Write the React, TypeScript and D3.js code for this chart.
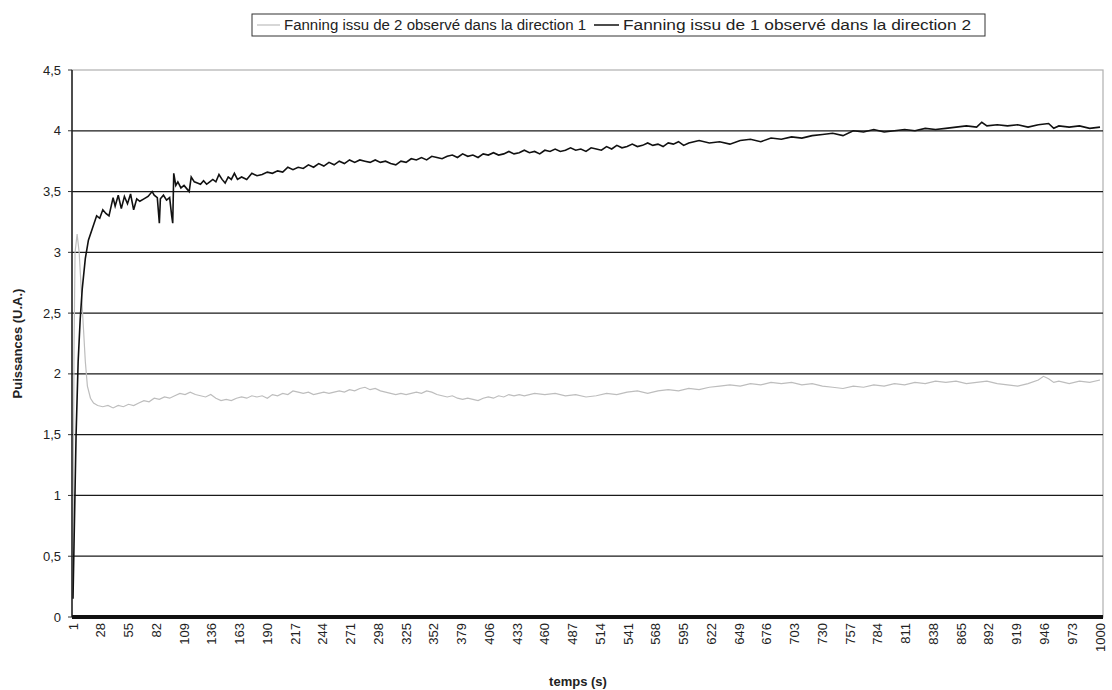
import React from "react";
import * as d3 from "d3";

// Series: [temps (s), puissance (U.A.)]
const fanning2dir1: [number, number][] = [
  [1, 0.5], [2, 2.2], [3, 3.0], [5, 3.15], [7, 3.0], [9, 2.7], [11, 2.4], [13, 2.1], [15, 1.9],
  [18, 1.8], [21, 1.76], [25, 1.74], [30, 1.73], [35, 1.74], [40, 1.72], [45, 1.74], [50, 1.73],
  [55, 1.75], [60, 1.74], [65, 1.76], [70, 1.78], [75, 1.77], [80, 1.8], [85, 1.79], [90, 1.81],
  [95, 1.8], [100, 1.82], [105, 1.84], [110, 1.83], [115, 1.85], [120, 1.83], [125, 1.82],
  [130, 1.81], [135, 1.83], [140, 1.8], [145, 1.78], [150, 1.79], [155, 1.78], [160, 1.8],
  [165, 1.81], [170, 1.8], [175, 1.82], [180, 1.81], [185, 1.82], [190, 1.8], [195, 1.83],
  [200, 1.82], [205, 1.84], [210, 1.83], [215, 1.86], [220, 1.85], [225, 1.84], [230, 1.85],
  [235, 1.83], [240, 1.84], [245, 1.85], [250, 1.84], [255, 1.85], [260, 1.86], [265, 1.85],
  [270, 1.87], [275, 1.86], [280, 1.88], [285, 1.89], [290, 1.87], [295, 1.88], [300, 1.86],
  [305, 1.85], [310, 1.84], [315, 1.83], [320, 1.84], [325, 1.83], [330, 1.84], [335, 1.85],
  [340, 1.84], [345, 1.86], [350, 1.85], [355, 1.83], [360, 1.82], [365, 1.81], [370, 1.82],
  [375, 1.8], [380, 1.79], [385, 1.8], [390, 1.79], [395, 1.78], [400, 1.8], [405, 1.81],
  [410, 1.8], [415, 1.82], [420, 1.81], [425, 1.83], [430, 1.82], [435, 1.83], [440, 1.82],
  [450, 1.84], [460, 1.83], [470, 1.84], [480, 1.82], [490, 1.83], [500, 1.81], [510, 1.82],
  [520, 1.84], [530, 1.83], [540, 1.85], [550, 1.86], [560, 1.84], [570, 1.86], [580, 1.87],
  [590, 1.86], [600, 1.88], [610, 1.87], [620, 1.89], [630, 1.9], [640, 1.91], [650, 1.9],
  [660, 1.92], [670, 1.91], [680, 1.93], [690, 1.92], [700, 1.93], [710, 1.91], [720, 1.92],
  [730, 1.9], [740, 1.89], [750, 1.88], [760, 1.9], [770, 1.89], [780, 1.91], [790, 1.9],
  [800, 1.92], [810, 1.91], [820, 1.93], [830, 1.92], [840, 1.94], [850, 1.93], [860, 1.94],
  [870, 1.92], [880, 1.93], [890, 1.94], [900, 1.92], [910, 1.91], [920, 1.9], [930, 1.92],
  [940, 1.95], [945, 1.98], [950, 1.96], [955, 1.93], [960, 1.94], [970, 1.92], [980, 1.94],
  [990, 1.93], [1000, 1.95],
];

const fanning1dir2: [number, number][] = [
  [1, 0.15], [2, 0.6], [4, 1.5], [6, 2.1], [8, 2.45], [10, 2.7], [13, 2.95], [16, 3.1],
  [20, 3.2], [24, 3.3], [27, 3.28], [30, 3.35], [33, 3.32], [36, 3.3], [40, 3.45], [42, 3.38],
  [45, 3.47], [48, 3.36], [51, 3.46], [54, 3.4], [57, 3.48], [60, 3.35], [63, 3.44], [66, 3.42],
  [70, 3.44], [74, 3.46], [78, 3.5], [80, 3.47], [83, 3.45], [85, 3.24], [86, 3.44], [89, 3.47],
  [92, 3.43], [95, 3.45], [97, 3.3], [98, 3.24], [99, 3.65], [101, 3.55], [103, 3.58],
  [106, 3.53], [109, 3.55], [112, 3.52], [114, 3.5], [116, 3.62], [119, 3.58], [122, 3.57],
  [125, 3.56], [128, 3.59], [131, 3.56], [134, 3.58], [137, 3.6], [140, 3.58], [143, 3.64],
  [146, 3.6], [149, 3.57], [152, 3.62], [155, 3.6], [158, 3.65], [161, 3.6], [165, 3.62],
  [170, 3.6], [175, 3.65], [180, 3.63], [185, 3.64], [190, 3.66], [195, 3.65], [200, 3.67],
  [205, 3.66], [210, 3.7], [215, 3.68], [220, 3.7], [225, 3.69], [230, 3.72], [235, 3.7],
  [240, 3.73], [245, 3.71], [250, 3.74], [255, 3.72], [260, 3.75], [265, 3.73], [270, 3.76],
  [275, 3.74], [280, 3.76], [285, 3.75], [290, 3.74], [295, 3.76], [300, 3.74], [305, 3.75],
  [310, 3.73], [315, 3.72], [320, 3.75], [325, 3.74], [330, 3.77], [335, 3.76], [340, 3.78],
  [345, 3.76], [350, 3.79], [355, 3.78], [360, 3.77], [365, 3.79], [370, 3.8], [375, 3.78],
  [380, 3.81], [385, 3.79], [390, 3.8], [395, 3.78], [400, 3.81], [405, 3.8], [410, 3.82],
  [415, 3.8], [420, 3.81], [425, 3.83], [430, 3.81], [435, 3.82], [440, 3.84], [445, 3.82],
  [450, 3.83], [455, 3.81], [460, 3.84], [465, 3.83], [470, 3.85], [475, 3.83], [480, 3.84],
  [485, 3.86], [490, 3.84], [495, 3.85], [500, 3.83], [505, 3.86], [510, 3.85], [515, 3.84],
  [520, 3.87], [525, 3.85], [530, 3.88], [535, 3.86], [540, 3.87], [545, 3.89], [550, 3.87],
  [555, 3.88], [560, 3.9], [565, 3.88], [570, 3.89], [575, 3.87], [580, 3.9], [585, 3.89],
  [590, 3.91], [595, 3.88], [600, 3.9], [610, 3.92], [620, 3.9], [630, 3.91], [640, 3.89],
  [650, 3.92], [660, 3.93], [670, 3.91], [680, 3.94], [690, 3.93], [700, 3.95], [710, 3.94],
  [720, 3.96], [730, 3.97], [740, 3.98], [750, 3.96], [760, 4.0], [770, 3.99], [780, 4.01],
  [790, 3.99], [800, 4.0], [810, 4.01], [820, 4.0], [830, 4.02], [840, 4.01], [850, 4.02],
  [860, 4.03], [870, 4.04], [880, 4.03], [885, 4.07], [890, 4.04], [900, 4.05], [910, 4.04],
  [920, 4.05], [930, 4.03], [940, 4.05], [950, 4.06], [955, 4.02], [960, 4.04], [970, 4.03],
  [980, 4.04], [990, 4.02], [1000, 4.03],
];

const yTicks = [0, 0.5, 1, 1.5, 2, 2.5, 3, 3.5, 4, 4.5];
const xTickLabels = d3.range(1, 1001, 27);

const legendLabels = [
  "Fanning issu de 2 observé dans la direction 1",
  "Fanning issu de 1 observé dans la direction 2",
];

export default function App() {
  const W = 1112, H = 690;
  const left = 72, right = 1103, top = 70, bottom = 617;
  const x = d3.scaleLinear().domain([1, 1000]).range([left + 1, right - 3]);
  const y = d3.scaleLinear().domain([0, 4.5]).range([bottom, top]);
  const line = d3.line<[number, number]>().x(d => x(d[0])).y(d => y(d[1]));
  const font = "'Liberation Sans', Arial, sans-serif";
  const fmt = (v: number) => String(v).replace(".", ",");

  return (
    <svg width={W} height={H} style={{ position: "absolute", left: 0, top: 0, background: "#fff" }} fontFamily={font}>
      {/* plot frame */}
      <rect x={left} y={top} width={right - left} height={bottom - top} fill="none" stroke="#b0b0b0" strokeWidth={1.2} />
      {/* gridlines */}
      {yTicks.filter(t => t > 0 && t < 4.5).map(t => (
        <line key={t} x1={left} x2={right} y1={y(t)} y2={y(t)} stroke="#1a1a1a" strokeWidth={1.2} />
      ))}
      {/* y ticks and labels */}
      {yTicks.map(t => (
        <g key={"yt" + t}>
          <line x1={left - 4} x2={left} y1={y(t)} y2={y(t)} stroke="#333" />
          <text x={left - 11} y={y(t)} dy="0.35em" textAnchor="end" fontSize={13} fill="#222">{fmt(t)}</text>
        </g>
      ))}
      {/* series */}
      <path d={line(fanning2dir1) || ""} fill="none" stroke="#bdbdbd" strokeWidth={1.2} />
      <path d={line(fanning1dir2) || ""} fill="none" stroke="#111" strokeWidth={1.6} />
      {/* axes */}
      <line x1={left} x2={left} y1={top} y2={bottom} stroke="#222" strokeWidth={1.5} />
      <line x1={left} x2={right} y1={bottom} y2={bottom} stroke="#111" strokeWidth={4} />
      {/* x labels */}
      {xTickLabels.map(t => (
        <text key={"xl" + t} transform={`translate(${x(t) + 4.5},${bottom + 6}) rotate(-90)`} textAnchor="end" fontSize={13} fill="#222">{t}</text>
      ))}
      {/* axis titles */}
      <text x={578} y={686} textAnchor="middle" fontSize={13} fontWeight="bold" fill="#222">temps (s)</text>
      <text transform={`translate(22,${(top + bottom) / 2}) rotate(-90)`} textAnchor="middle" fontSize={13} fontWeight="bold" fill="#222">Puissances (U.A.)</text>
      {/* legend */}
      <rect x={252} y={14} width={733} height={22} fill="#fff" stroke="#333" strokeWidth={1} />
      <line x1={257} x2={280} y1={25} y2={25} stroke="#bdbdbd" strokeWidth={1.2} />
      <text x={284} y={30} fontSize={14} textLength={302} lengthAdjust="spacingAndGlyphs" fill="#222">{legendLabels[0]}</text>
      <line x1={594} x2={619} y1={25} y2={25} stroke="#111" strokeWidth={1.5} />
      <text x={623} y={30} fontSize={14} textLength={348} lengthAdjust="spacingAndGlyphs" fill="#222">{legendLabels[1]}</text>
    </svg>
  );
}
